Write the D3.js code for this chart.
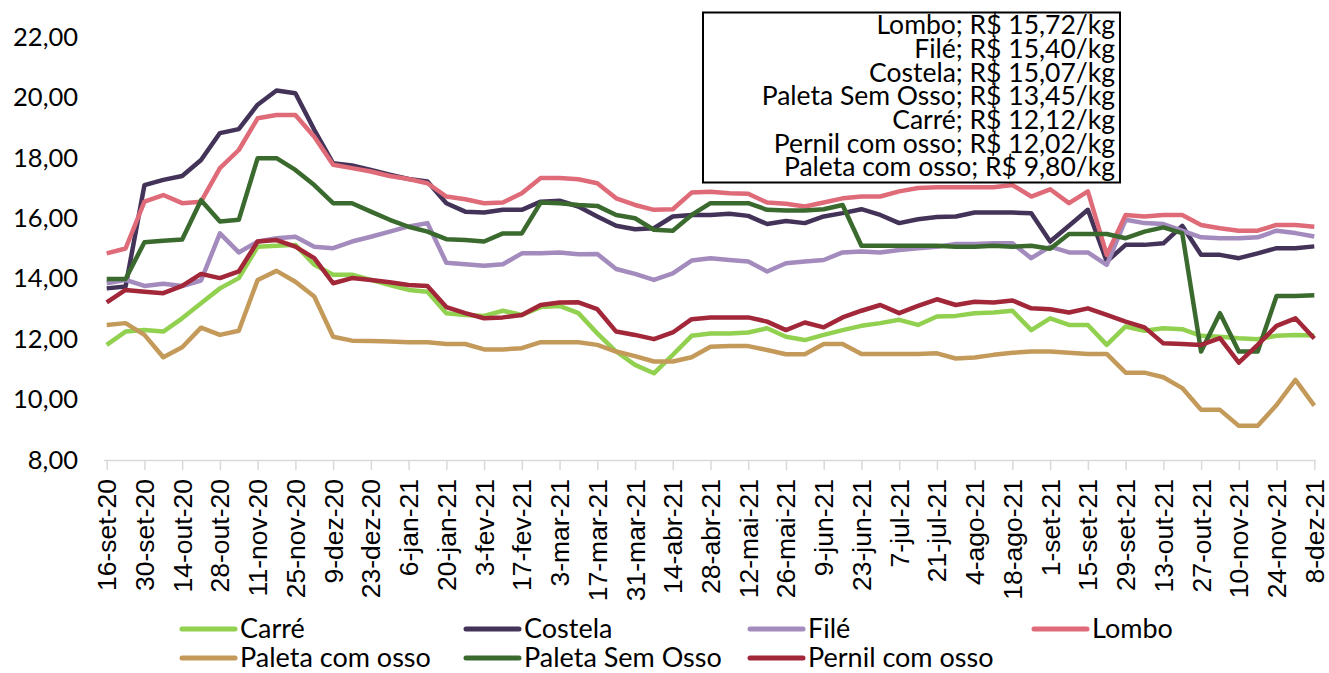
<html>
<head>
<meta charset="utf-8">
<script src="https://cdnjs.cloudflare.com/ajax/libs/d3/7.8.5/d3.min.js"></script>
<style>
  body { margin: 0; background: #fff; }
  svg { font-family: Lato, "Open Sans", sans-serif; }
</style>
</head>
<body>
<svg width="1329" height="673"></svg>
<script>
// weekly dates
const dates = ["16-set-20","23-set-20","30-set-20","7-out-20","14-out-20","21-out-20","28-out-20","4-nov-20",
  "11-nov-20","18-nov-20","25-nov-20","2-dez-20","9-dez-20","16-dez-20","23-dez-20","30-dez-20",
  "6-jan-21","13-jan-21","20-jan-21","27-jan-21","3-fev-21","10-fev-21","17-fev-21","24-fev-21",
  "3-mar-21","10-mar-21","17-mar-21","24-mar-21","31-mar-21","7-abr-21","14-abr-21","21-abr-21",
  "28-abr-21","5-mai-21","12-mai-21","19-mai-21","26-mai-21","2-jun-21","9-jun-21","16-jun-21",
  "23-jun-21","30-jun-21","7-jul-21","14-jul-21","21-jul-21","28-jul-21","4-ago-21","11-ago-21",
  "18-ago-21","25-ago-21","1-set-21","8-set-21","15-set-21","22-set-21","29-set-21","6-out-21",
  "13-out-21","20-out-21","27-out-21","3-nov-21","10-nov-21","17-nov-21","24-nov-21","1-dez-21","8-dez-21"];

const tickLabels = dates.filter((d, i) => i % 2 === 0);
const yTicks = [8, 10, 12, 14, 16, 18, 20, 22];

const names = ["Carré", "Costela", "Filé", "Lombo", "Paleta com osso", "Paleta Sem Osso", "Pernil com osso"];

const carre = [11.81,12.25,12.3,12.25,12.69,13.19,13.68,14.02,15.06,15.09,15.12,14.46,14.13,14.13,13.96,13.79,13.63,
  13.57,12.86,12.8,12.77,12.94,12.8,13.06,13.1,12.86,12.19,11.59,11.15,10.87,11.48,12.11,12.19,
  12.19,12.22,12.36,12.08,11.97,12.14,12.3,12.44,12.53,12.64,12.47,12.75,12.77,12.86,12.88,12.94,
  12.3,12.69,12.47,12.47,11.81,12.42,12.28,12.36,12.33,12.11,12.08,12.03,12.0,12.11,12.14,12.12];

const costela = [13.68,13.74,17.1,17.27,17.4,17.93,18.82,18.95,19.76,20.23,20.14,18.93,17.82,17.75,17.6,17.44,17.3,
  17.22,16.5,16.22,16.19,16.28,16.28,16.55,16.58,16.39,16.06,15.75,15.64,15.67,16.06,16.11,16.11,
  16.15,16.08,15.81,15.91,15.84,16.06,16.17,16.3,16.11,15.84,15.97,16.04,16.06,16.19,16.19,16.19,
  16.17,15.23,15.75,16.28,14.57,15.12,15.12,15.17,15.75,14.79,14.79,14.68,14.84,15.01,15.01,15.07];

const file = [13.85,13.96,13.76,13.83,13.76,13.94,15.5,14.87,15.23,15.34,15.39,15.06,15.01,15.23,15.39,15.56,15.73,
  15.84,14.53,14.48,14.43,14.48,14.84,14.84,14.87,14.81,14.82,14.32,14.16,13.96,14.18,14.6,14.68,
  14.62,14.57,14.24,14.51,14.57,14.62,14.87,14.9,14.87,14.95,15.01,15.06,15.15,15.15,15.17,15.17,
  14.68,15.06,14.87,14.87,14.46,15.95,15.84,15.81,15.59,15.37,15.34,15.34,15.37,15.59,15.51,15.40];

const lombo = [14.84,15.0,16.55,16.77,16.5,16.55,17.66,18.26,19.31,19.42,19.42,18.7,17.77,17.66,17.55,17.4,17.3,
  17.16,16.72,16.63,16.5,16.52,16.83,17.33,17.33,17.29,17.16,16.66,16.44,16.28,16.3,16.85,16.88,
  16.83,16.81,16.52,16.48,16.39,16.52,16.66,16.72,16.72,16.89,17.0,17.03,17.03,17.03,17.03,17.1,
  16.72,16.96,16.5,16.89,14.79,16.11,16.06,16.11,16.11,15.78,15.67,15.59,15.59,15.78,15.78,15.72];

const paletaComOsso = [12.47,12.53,12.14,11.4,11.73,12.38,12.14,12.28,13.96,14.26,13.9,13.41,12.08,11.95,11.94,11.92,11.9,
  11.9,11.84,11.84,11.66,11.66,11.7,11.9,11.9,11.9,11.81,11.59,11.44,11.26,11.26,11.4,11.75,
  11.77,11.77,11.64,11.5,11.5,11.84,11.84,11.51,11.51,11.51,11.51,11.53,11.36,11.39,11.48,11.55,
  11.59,11.59,11.55,11.51,11.51,10.89,10.89,10.74,10.38,9.66,9.66,9.13,9.13,9.82,10.65,9.80];

const paletaSemOsso = [13.99,13.99,15.21,15.26,15.3,16.6,15.89,15.95,17.99,17.99,17.6,17.1,16.5,16.5,16.22,15.95,15.72,
  15.56,15.31,15.28,15.23,15.5,15.5,16.52,16.5,16.44,16.41,16.11,16.0,15.62,15.59,16.11,16.5,
  16.5,16.5,16.28,16.26,16.26,16.3,16.44,15.09,15.09,15.09,15.09,15.09,15.06,15.06,15.09,15.06,
  15.09,14.99,15.48,15.48,15.48,15.34,15.56,15.7,15.51,11.59,12.86,11.59,11.59,13.43,13.43,13.45];

const pernil = [13.22,13.63,13.57,13.52,13.76,14.16,14.02,14.24,15.23,15.28,15.06,14.68,13.85,14.02,13.96,13.88,13.79,
  13.76,13.06,12.86,12.69,12.72,12.8,13.13,13.21,13.22,12.99,12.25,12.14,12.0,12.22,12.66,12.72,
  12.72,12.72,12.58,12.3,12.55,12.39,12.72,12.94,13.13,12.86,13.1,13.32,13.13,13.24,13.21,13.28,
  13.02,12.99,12.88,13.02,12.8,12.58,12.39,11.86,11.84,11.81,12.03,11.22,11.81,12.44,12.69,12.02];

const seriesValues = [carre, costela, file, lombo, paletaComOsso, paletaSemOsso, pernil];
const colors = ["#92d050", "#443359", "#a38bbd", "#df6b79", "#c49a5a", "#3b6a2f", "#a12739"];

// last prices shown in the box
const boxLines = ["Lombo; R$ 15,72/kg", "Filé; R$ 15,40/kg", "Costela; R$ 15,07/kg", "Paleta Sem Osso; R$ 13,45/kg",
  "Carré; R$ 12,12/kg", "Pernil com osso; R$ 12,02/kg", "Paleta com osso; R$ 9,80/kg"];

const svg = d3.select("svg");

const x = d3.scalePoint().domain(dates).range([106.7, 1314.3]);
const y = d3.scaleLinear().domain([8, 22]).range([460, 37]);

const br = d3.formatLocale({decimal: ",", thousands: ".", grouping: [3], currency: ["R$ ", ""]});
const fmt = br.format(".2f");

// y axis (labels only)
const yAxis = svg.append("g")
  .attr("transform", "translate(106,0)")
  .call(d3.axisLeft(y).tickValues(yTicks).tickFormat(fmt).tickSize(0).tickPadding(28));
yAxis.select(".domain").remove();
yAxis.selectAll("text").style("font-size", "25.5px").style("font-family", "Lato").attr("fill", "#000");

// x axis
const xAxis = svg.append("g")
  .attr("transform", "translate(0,460)")
  .call(d3.axisBottom(x).tickValues(tickLabels).tickSize(10).tickSizeOuter(0));
xAxis.select(".domain").attr("stroke", "#d9d9d9").attr("stroke-width", 1.5)
  .attr("d", "M104,0.5H1316");
xAxis.selectAll(".tick line").attr("stroke", "#d9d9d9").attr("stroke-width", 1.5);
xAxis.selectAll("text")
  .attr("transform", "rotate(-90)")
  .attr("x", -19).attr("y", 0).attr("dy", "0.34em")
  .style("text-anchor", "end")
  .style("font-size", "26.5px")
  .attr("fill", "#000");

// lines
const line = d3.line().x((d, i) => x(dates[i])).y(d => y(d));
svg.append("g").selectAll("path")
  .data(seriesValues)
  .join("path")
  .attr("d", line)
  .attr("fill", "none")
  .attr("stroke", (d, i) => colors[i])
  .attr("stroke-width", 4.5)
  .attr("stroke-linejoin", "round");

// price box
const box = svg.append("g");
box.append("rect").attr("x", 703).attr("y", 12.5).attr("width", 417).attr("height", 170)
  .attr("fill", "#fff").attr("stroke", "#000").attr("stroke-width", 2);
const boxY = d3.scalePoint().domain(boxLines).range([25, 167]);
box.selectAll("text")
  .data(boxLines)
  .join("text")
  .attr("x", 1115)
  .attr("y", d => boxY(d))
  .attr("dy", "0.35em")
  .attr("text-anchor", "end")
  .style("font-size", "26.5px")
  .text(d => d);

// legend
const legX = d3.scalePoint().domain([0, 1, 2, 3]).range([182, 1034]);
const legY = d3.scalePoint().domain([0, 1]).range([629, 658]);
const leg = svg.append("g").selectAll("g")
  .data(names)
  .join("g")
  .attr("transform", (d, i) => `translate(${legX(i % 4)},${legY(Math.floor(i / 4))})`);
leg.append("line").attr("x1", 0).attr("x2", 53).attr("y1", 0).attr("y2", 0)
  .attr("stroke", (d, i) => colors[i]).attr("stroke-width", 5).attr("stroke-linecap", "round");
leg.append("text").attr("x", 58).attr("dy", "0.35em")
  .style("font-size", "27px").text(d => d);
</script>
</body>
</html>
